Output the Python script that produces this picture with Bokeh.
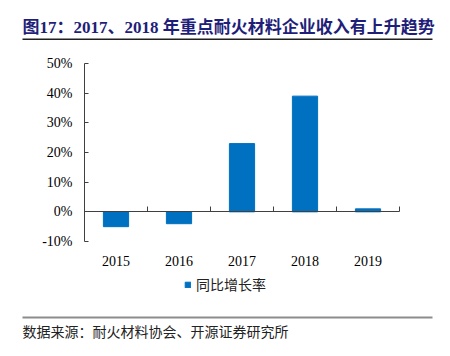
from bokeh.plotting import figure
from bokeh.models import (Range1d, LinearAxis, FixedTicker, Label, BoxAnnotation,
                          Legend, LegendItem, ColumnDataSource, NumeralTickFormatter)
from bokeh.embed import file_html
from bokeh.resources import INLINE

years = ["2015", "2016", "2017", "2018", "2019"]
growth = [-0.05, -0.04, 0.23, 0.39, 0.01]
y_ticks = [-0.10, 0.0, 0.10, 0.20, 0.30, 0.40, 0.50]

title_text = "图17：2017、2018 年重点耐火材料企业收入有上升趋势"
source_text = "数据来源：耐火材料协会、开源证券研究所"
legend_text = "同比增长率"

SERIF = "Liberation Serif, Times New Roman, Noto Sans CJK SC"
CJK = "Noto Sans CJK SC"

W, H = 450, 356
# plot-area placement on the canvas (pixels from top-left)
FL, FR, FT, FB = 84, 399, 63, 241
Y0, Y1 = y_ticks[0], y_ticks[-1]
n = len(years)
X0, X1 = 0.5, n + 0.5

# extra ranges so that the chart area maps onto [FL,FR]x[FT,FB]
sx = (X1 - X0) / (FR - FL)
sy = (Y1 - Y0) / (FB - FT)
cx = Range1d(X0 - FL * sx, X1 + (W - FR) * sx)
cy = Range1d(Y0 - (H - FB) * sy, Y1 + FT * sy)

p = figure(width=W, height=H, output_backend="svg", toolbar_location=None,
           x_range=Range1d(0, W), y_range=Range1d(0, H),
           min_border=0, x_axis_location=None, y_axis_location=None)
p.extra_x_ranges = {"cx": cx}
p.extra_y_ranges = {"cy": cy}
p.outline_line_color = None
p.grid.visible = False
p.background_fill_color = "white"

xs = list(range(1, n + 1))
src = ColumnDataSource(dict(x=xs, y=growth))
r = p.vbar(x="x", top="y", width=0.4, bottom=0, color="#0070C0", source=src,
           x_range_name="cx", y_range_name="cy")

AX = "#404040"

ya = LinearAxis(x_range_name="cx", y_range_name="cy", fixed_location=X0,
                bounds=(Y0, Y1), ticker=FixedTicker(ticks=y_ticks),
                formatter=NumeralTickFormatter(format="0%"))
ya.axis_line_color = AX
ya.major_tick_line_color = AX
ya.major_tick_in = 4
ya.major_tick_out = 0
ya.minor_tick_line_color = None
ya.major_label_text_font = SERIF
ya.major_label_text_font_size = "14px"
ya.major_label_text_color = "#000000"
ya.major_label_standoff = 12
p.add_layout(ya, "left")

za = LinearAxis(x_range_name="cx", y_range_name="cy", fixed_location=0,
                bounds=(X0, X1), ticker=FixedTicker(ticks=[x + 0.5 for x in xs]))
za.axis_line_color = AX
za.major_tick_line_color = AX
za.major_tick_in = 5
za.major_tick_out = 0
za.minor_tick_line_color = None
za.major_label_text_alpha = 0
za.major_label_text_font_size = "1px"
p.add_layout(za, "below")

xa = LinearAxis(x_range_name="cx", y_range_name="cy", fixed_location=Y0,
                bounds=(X0, X1), ticker=FixedTicker(ticks=xs),
                major_label_overrides={x: y for x, y in zip(xs, years)})
xa.axis_line_color = None
xa.major_tick_line_color = None
xa.minor_tick_line_color = None
xa.major_label_text_font = SERIF
xa.major_label_text_font_size = "14px"
xa.major_label_text_color = "#000000"
xa.major_label_standoff = 8
p.add_layout(xa, "below")

legend = Legend(items=[LegendItem(label=legend_text, renderers=[r])],
                location=(184, 62), orientation="horizontal",
                label_text_font=CJK, label_text_font_size="14px",
                label_text_color="#222222",
                glyph_width=7, glyph_height=7, label_standoff=5,
                border_line_color=None, background_fill_alpha=0,
                padding=0, margin=0)
p.add_layout(legend, "center")

# header
p.add_layout(Label(x=22, y=H - 27, text=title_text, text_font=SERIF,
                   text_font_size="17px", text_font_style="bold",
                   text_color="#1F1F7A", text_baseline="middle"))
p.add_layout(BoxAnnotation(left=22, right=432, top=H - 38, bottom=H - 39.5,
                           fill_color="#202020", fill_alpha=1, line_color=None))
# footer
p.add_layout(BoxAnnotation(left=22, right=432, top=H - 316, bottom=H - 318,
                           fill_color="#8C8C8C", fill_alpha=1, line_color=None))
p.add_layout(Label(x=22, y=H - 330, text=source_text, text_font=CJK,
                   text_font_size="14px", text_color="#222222",
                   text_baseline="middle"))

open("out.html", "w").write(file_html(p, INLINE))
